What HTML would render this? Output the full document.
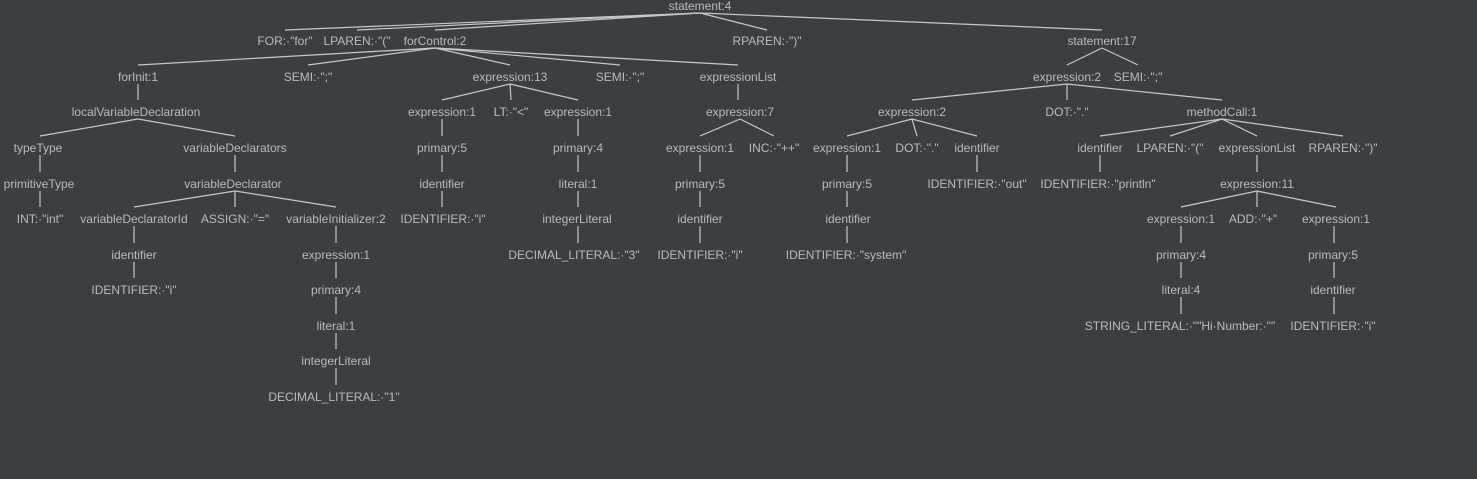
<!DOCTYPE html>
<html><head><meta charset="utf-8"><style>
html,body{margin:0;padding:0;background:#3c3f41;}
svg{display:block}
text{font-family:"Liberation Sans",sans-serif;font-size:12px;fill:#bbbbbb;text-anchor:middle}
line{stroke:#c8c8c8;stroke-width:1.2}
</style></head><body>
<svg width="1477" height="479" viewBox="0 0 1477 479">
<rect width="1477" height="479" fill="#3c3f41"/>
<g>
<!-- r0 -> r1 (y 13 -> 30) -->
<line x1="700" y1="13" x2="285" y2="30"/>
<line x1="700" y1="13" x2="357" y2="30"/>
<line x1="700" y1="13" x2="435" y2="30"/>
<line x1="700" y1="13" x2="767" y2="30"/>
<line x1="700" y1="13" x2="1102" y2="30"/>
<!-- r1 -> r2 (48 -> 65) -->
<line x1="435" y1="48" x2="138" y2="65"/>
<line x1="435" y1="48" x2="308" y2="65"/>
<line x1="435" y1="48" x2="510" y2="65"/>
<line x1="435" y1="48" x2="620" y2="65"/>
<line x1="435" y1="48" x2="738" y2="65"/>
<line x1="1102" y1="48" x2="1067" y2="65"/>
<line x1="1102" y1="48" x2="1138" y2="65"/>
<!-- r2 -> r3 (84 -> 100) -->
<line x1="138" y1="84" x2="138" y2="100"/>
<line x1="510" y1="84" x2="442" y2="100"/>
<line x1="510" y1="84" x2="511" y2="100"/>
<line x1="510" y1="84" x2="578" y2="100"/>
<line x1="738" y1="84" x2="738" y2="100"/>
<line x1="1067" y1="84" x2="912" y2="100"/>
<line x1="1067" y1="84" x2="1067" y2="100"/>
<line x1="1067" y1="84" x2="1222" y2="100"/>
<!-- r3 -> r4 (119 -> 136) -->
<line x1="138" y1="119" x2="40" y2="136"/>
<line x1="138" y1="119" x2="235" y2="136"/>
<line x1="442" y1="119" x2="442" y2="136"/>
<line x1="578" y1="119" x2="578" y2="136"/>
<line x1="740" y1="119" x2="700" y2="136"/>
<line x1="740" y1="119" x2="774" y2="136"/>
<line x1="912" y1="119" x2="847" y2="136"/>
<line x1="912" y1="119" x2="917" y2="136"/>
<line x1="912" y1="119" x2="977" y2="136"/>
<line x1="1222" y1="119" x2="1100" y2="136"/>
<line x1="1222" y1="119" x2="1170" y2="136"/>
<line x1="1222" y1="119" x2="1257" y2="136"/>
<line x1="1222" y1="119" x2="1343" y2="136"/>
<!-- r4 -> r5 (155 -> 172) -->
<line x1="40" y1="155" x2="40" y2="172"/>
<line x1="235" y1="155" x2="235" y2="172"/>
<line x1="442" y1="155" x2="442" y2="172"/>
<line x1="578" y1="155" x2="578" y2="172"/>
<line x1="700" y1="155" x2="700" y2="172"/>
<line x1="847" y1="155" x2="847" y2="172"/>
<line x1="977" y1="155" x2="977" y2="172"/>
<line x1="1100" y1="155" x2="1100" y2="172"/>
<line x1="1257" y1="155" x2="1257" y2="172"/>
<!-- r5 -> r6 (191 -> 207) -->
<line x1="40" y1="191" x2="40" y2="207"/>
<line x1="235" y1="191" x2="134" y2="207"/>
<line x1="235" y1="191" x2="235" y2="207"/>
<line x1="235" y1="191" x2="336" y2="207"/>
<line x1="442" y1="191" x2="442" y2="207"/>
<line x1="578" y1="191" x2="578" y2="207"/>
<line x1="700" y1="191" x2="700" y2="207"/>
<line x1="847" y1="191" x2="847" y2="207"/>
<line x1="1257" y1="191" x2="1181" y2="207"/>
<line x1="1257" y1="191" x2="1257" y2="207"/>
<line x1="1257" y1="191" x2="1336" y2="207"/>
<!-- r6 -> r7 (226 -> 243) -->
<line x1="134" y1="226" x2="134" y2="243"/>
<line x1="336" y1="226" x2="336" y2="243"/>
<line x1="578" y1="226" x2="578" y2="243"/>
<line x1="700" y1="226" x2="700" y2="243"/>
<line x1="847" y1="226" x2="847" y2="243"/>
<line x1="1181" y1="226" x2="1181" y2="243"/>
<line x1="1334" y1="226" x2="1334" y2="243"/>
<!-- r7 -> r8 (262 -> 278) -->
<line x1="134" y1="262" x2="134" y2="278"/>
<line x1="336" y1="262" x2="336" y2="278"/>
<line x1="1181" y1="262" x2="1181" y2="278"/>
<line x1="1334" y1="262" x2="1334" y2="278"/>
<!-- r8 -> r9 (297 -> 314) -->
<line x1="336" y1="297" x2="336" y2="314"/>
<line x1="1181" y1="297" x2="1181" y2="314"/>
<line x1="1334" y1="297" x2="1334" y2="314"/>
<!-- r9 -> r10 -->
<line x1="336" y1="333" x2="336" y2="349"/>
<!-- r10 -> r11 -->
<line x1="336" y1="368" x2="336" y2="385"/>
</g>
<g>
<text x="700" y="10">statement:4</text>

<text x="285" y="45">FOR:·"for"</text>
<text x="357" y="45">LPAREN:·"("</text>
<text x="435" y="45">forControl:2</text>
<text x="767" y="45">RPAREN:·")"</text>
<text x="1102" y="45">statement:17</text>

<text x="138" y="81">forInit:1</text>
<text x="308" y="81">SEMI:·";"</text>
<text x="510" y="81">expression:13</text>
<text x="620" y="81">SEMI:·";"</text>
<text x="738" y="81">expressionList</text>
<text x="1067" y="81">expression:2</text>
<text x="1138" y="81">SEMI:·";"</text>

<text x="136" y="116">localVariableDeclaration</text>
<text x="442" y="116">expression:1</text>
<text x="511" y="116">LT:·"&lt;"</text>
<text x="578" y="116">expression:1</text>
<text x="740" y="116">expression:7</text>
<text x="912" y="116">expression:2</text>
<text x="1067" y="116">DOT:·"."</text>
<text x="1222" y="116">methodCall:1</text>

<text x="38" y="152">typeType</text>
<text x="235" y="152">variableDeclarators</text>
<text x="442" y="152">primary:5</text>
<text x="578" y="152">primary:4</text>
<text x="700" y="152">expression:1</text>
<text x="774" y="152">INC:·"++"</text>
<text x="847" y="152">expression:1</text>
<text x="917" y="152">DOT:·"."</text>
<text x="977" y="152">identifier</text>
<text x="1100" y="152">identifier</text>
<text x="1170" y="152">LPAREN:·"("</text>
<text x="1257" y="152">expressionList</text>
<text x="1343" y="152">RPAREN:·")"</text>

<text x="39" y="188">primitiveType</text>
<text x="233" y="188">variableDeclarator</text>
<text x="442" y="188">identifier</text>
<text x="578" y="188">literal:1</text>
<text x="700" y="188">primary:5</text>
<text x="847" y="188">primary:5</text>
<text x="977" y="188">IDENTIFIER:·"out"</text>
<text x="1098" y="188">IDENTIFIER:·"println"</text>
<text x="1257" y="188">expression:11</text>

<text x="40" y="223">INT:·"int"</text>
<text x="134" y="223">variableDeclaratorId</text>
<text x="235" y="223">ASSIGN:·"="</text>
<text x="336" y="223">variableInitializer:2</text>
<text x="443" y="223">IDENTIFIER:·"i"</text>
<text x="577" y="223">integerLiteral</text>
<text x="700" y="223">identifier</text>
<text x="848" y="223">identifier</text>
<text x="1181" y="223">expression:1</text>
<text x="1253" y="223">ADD:·"+"</text>
<text x="1336" y="223">expression:1</text>

<text x="134" y="259">identifier</text>
<text x="336" y="259">expression:1</text>
<text x="574" y="259">DECIMAL_LITERAL:·"3"</text>
<text x="700" y="259">IDENTIFIER:·"i"</text>
<text x="846" y="259">IDENTIFIER:·"system"</text>
<text x="1181" y="259">primary:4</text>
<text x="1333" y="259">primary:5</text>

<text x="134" y="294">IDENTIFIER:·"i"</text>
<text x="336" y="294">primary:4</text>
<text x="1181" y="294">literal:4</text>
<text x="1333" y="294">identifier</text>

<text x="336" y="330">literal:1</text>
<text x="1180" y="330">STRING_LITERAL:·""Hi·Number:·""</text>
<text x="1333" y="330">IDENTIFIER:·"i"</text>

<text x="336" y="365">integerLiteral</text>
<text x="334" y="401">DECIMAL_LITERAL:·"1"</text>
</g>
</svg>
</body></html>
